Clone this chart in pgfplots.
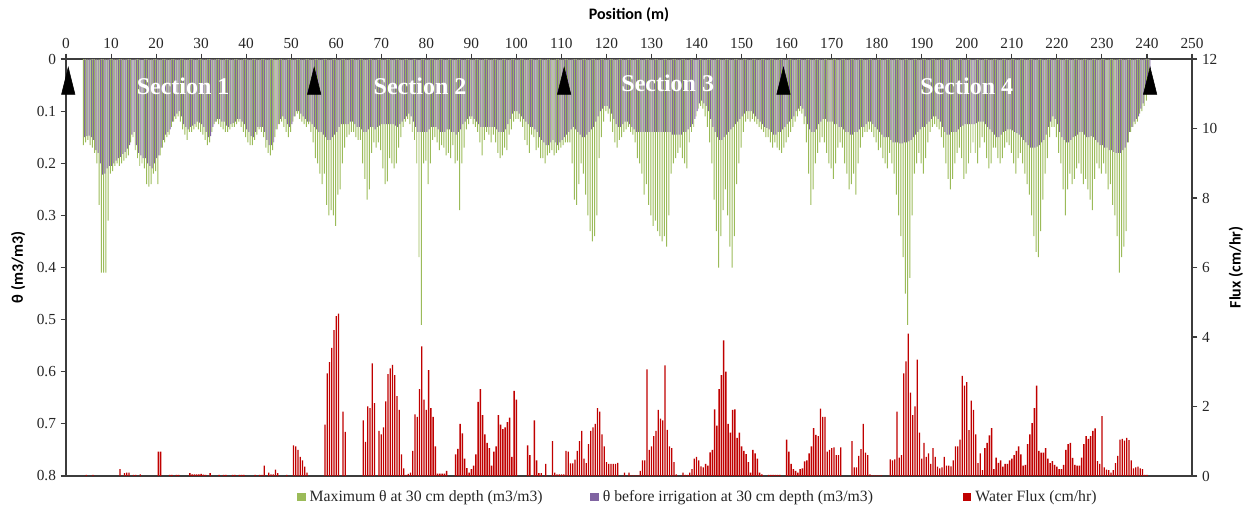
\documentclass[border=0pt]{standalone}
\usepackage{fontspec}
\setmainfont{Liberation Serif}
\newfontfamily\labelfont{Carlito}
\usepackage{pgfplots}
\usepackage{pgfplotstable}
\pgfplotsset{compat=1.18}

\definecolor{thmax}{RGB}{155,187,89}
\definecolor{thpre}{RGB}{128,100,162}
\definecolor{fluxred}{RGB}{192,0,0}
\definecolor{axisgrey}{RGB}{60,60,60}

\pgfplotsset{sqlegend/.style={legend image code/.code={\fill[##1] (0pt,-3.2pt) rectangle (6.4pt,3.2pt);}}}

% soil water content at 30 cm depth: b = before irrigation, m = maximum
\pgfplotstableread{
x b m
4.0 0.150 0.165
4.5 0.148 0.160
5.0 0.147 0.155
5.5 0.150 0.165
6.0 0.155 0.170
6.5 0.175 0.180
7.0 0.180 0.200
7.5 0.200 0.280
8.0 0.222 0.410
8.5 0.220 0.410
9.0 0.210 0.410
9.5 0.205 0.310
10.0 0.205 0.220
10.5 0.200 0.215
11.0 0.195 0.205
11.5 0.190 0.200
12.0 0.188 0.205
12.5 0.182 0.200
13.0 0.178 0.195
13.5 0.172 0.190
14.0 0.165 0.185
14.5 0.145 0.160
15.0 0.140 0.150
15.5 0.165 0.175
16.0 0.180 0.190
16.5 0.185 0.205
17.0 0.190 0.200
17.5 0.190 0.210
18.0 0.200 0.240
18.5 0.205 0.245
19.0 0.210 0.240
19.5 0.200 0.220
20.0 0.190 0.215
20.5 0.185 0.240
21.0 0.170 0.185
21.5 0.155 0.170
22.0 0.145 0.160
22.5 0.140 0.150
23.0 0.135 0.145
23.5 0.120 0.130
24.0 0.110 0.120
24.5 0.105 0.115
25.0 0.100 0.110
25.5 0.110 0.120
26.0 0.125 0.135
26.5 0.130 0.145
27.0 0.135 0.155
27.5 0.130 0.140
28.0 0.128 0.140
28.5 0.125 0.135
29.0 0.120 0.130
29.5 0.122 0.135
30.0 0.125 0.140
30.5 0.130 0.145
31.0 0.140 0.155
31.5 0.150 0.165
32.0 0.148 0.160
32.5 0.130 0.140
33.0 0.120 0.125
33.5 0.115 0.120
34.0 0.115 0.125
34.5 0.120 0.130
35.0 0.120 0.135
35.5 0.128 0.140
36.0 0.130 0.140
36.5 0.125 0.135
37.0 0.123 0.130
37.5 0.120 0.130
38.0 0.115 0.125
38.5 0.115 0.120
39.0 0.120 0.130
39.5 0.125 0.140
40.0 0.135 0.150
40.5 0.140 0.160
41.0 0.148 0.165
41.5 0.150 0.165
42.0 0.140 0.155
42.5 0.130 0.145
43.0 0.130 0.135
43.5 0.130 0.140
44.0 0.140 0.150
44.5 0.155 0.170
45.0 0.165 0.180
45.5 0.165 0.185
46.0 0.160 0.175
46.5 0.135 0.150
47.0 0.125 0.135
47.5 0.115 0.125
48.0 0.110 0.120
48.5 0.115 0.130
49.0 0.125 0.140
49.5 0.130 0.150
50.0 0.125 0.140
50.5 0.110 0.120
51.0 0.100 0.110
51.5 0.100 0.105
52.0 0.105 0.115
52.5 0.110 0.120
53.0 0.115 0.125
53.5 0.120 0.130
54.0 0.120 0.125
54.5 0.125 0.140
55.0 0.130 0.160
55.5 0.135 0.190
56.0 0.140 0.200
56.5 0.140 0.220
57.0 0.145 0.240
57.5 0.150 0.220
58.0 0.155 0.280
58.5 0.155 0.300
59.0 0.150 0.290
59.5 0.145 0.300
60.0 0.140 0.320
60.5 0.130 0.260
61.0 0.125 0.250
61.5 0.125 0.200
62.0 0.125 0.170
62.5 0.125 0.150
63.0 0.120 0.145
63.5 0.120 0.140
64.0 0.125 0.140
64.5 0.130 0.150
65.0 0.130 0.155
65.5 0.135 0.155
66.0 0.140 0.200
66.5 0.140 0.230
67.0 0.135 0.270
67.5 0.130 0.250
68.0 0.130 0.180
68.5 0.135 0.160
69.0 0.130 0.170
69.5 0.128 0.160
70.0 0.125 0.175
70.5 0.125 0.210
71.0 0.125 0.240
71.5 0.125 0.235
72.0 0.125 0.190
72.5 0.125 0.200
73.0 0.128 0.210
73.5 0.130 0.200
74.0 0.125 0.170
74.5 0.120 0.150
75.0 0.115 0.130
75.5 0.110 0.120
76.0 0.105 0.115
76.5 0.110 0.125
77.0 0.120 0.140
77.5 0.130 0.155
78.0 0.140 0.200
78.5 0.140 0.380
79.0 0.140 0.510
79.5 0.140 0.200
80.0 0.140 0.195
80.5 0.135 0.240
81.0 0.130 0.200
81.5 0.130 0.155
82.0 0.130 0.150
82.5 0.135 0.160
83.0 0.140 0.175
83.5 0.140 0.165
84.0 0.140 0.170
84.5 0.135 0.185
85.0 0.135 0.180
85.5 0.140 0.190
86.0 0.140 0.165
86.5 0.145 0.200
87.0 0.140 0.195
87.5 0.135 0.290
88.0 0.125 0.200
88.5 0.120 0.170
89.0 0.115 0.135
89.5 0.110 0.125
90.0 0.110 0.115
90.5 0.115 0.125
91.0 0.120 0.130
91.5 0.125 0.140
92.0 0.130 0.160
92.5 0.130 0.185
93.0 0.130 0.155
93.5 0.130 0.140
94.0 0.130 0.145
94.5 0.130 0.160
95.0 0.130 0.145
95.5 0.135 0.160
96.0 0.140 0.180
96.5 0.140 0.190
97.0 0.140 0.185
97.5 0.135 0.170
98.0 0.125 0.175
98.5 0.115 0.145
99.0 0.105 0.135
99.5 0.100 0.120
100.0 0.100 0.115
100.5 0.105 0.115
101.0 0.110 0.120
101.5 0.115 0.130
102.0 0.120 0.155
102.5 0.125 0.165
103.0 0.130 0.180
103.5 0.130 0.145
104.0 0.135 0.150
104.5 0.140 0.175
105.0 0.150 0.170
105.5 0.155 0.190
106.0 0.160 0.190
106.5 0.165 0.200
107.0 0.165 0.185
107.5 0.160 0.180
108.0 0.155 0.175
108.5 0.160 0.185
109.0 0.165 0.180
109.5 0.160 0.175
110.0 0.155 0.170
110.5 0.150 0.165
111.0 0.145 0.160
111.5 0.140 0.160
112.0 0.135 0.160
112.5 0.130 0.200
113.0 0.135 0.270
113.5 0.140 0.280
114.0 0.145 0.240
114.5 0.150 0.200
115.0 0.150 0.220
115.5 0.145 0.260
116.0 0.140 0.300
116.5 0.135 0.330
117.0 0.130 0.350
117.5 0.120 0.340
118.0 0.110 0.300
118.5 0.100 0.190
119.0 0.095 0.150
119.5 0.090 0.120
120.0 0.090 0.100
120.5 0.095 0.105
121.0 0.105 0.120
121.5 0.115 0.140
122.0 0.125 0.160
122.5 0.130 0.170
123.0 0.130 0.155
123.5 0.125 0.150
124.0 0.120 0.140
124.5 0.120 0.135
125.0 0.125 0.130
125.5 0.130 0.140
126.0 0.135 0.145
126.5 0.140 0.160
127.0 0.140 0.190
127.5 0.140 0.200
128.0 0.140 0.220
128.5 0.140 0.260
129.0 0.140 0.240
129.5 0.140 0.280
130.0 0.140 0.300
130.5 0.140 0.320
131.0 0.140 0.310
131.5 0.140 0.330
132.0 0.140 0.340
132.5 0.140 0.350
133.0 0.140 0.340
133.5 0.140 0.360
134.0 0.140 0.300
134.5 0.145 0.220
135.0 0.145 0.200
135.5 0.145 0.190
136.0 0.145 0.180
136.5 0.145 0.170
137.0 0.140 0.190
137.5 0.140 0.200
138.0 0.135 0.210
138.5 0.130 0.160
139.0 0.125 0.140
139.5 0.115 0.130
140.0 0.100 0.110
140.5 0.085 0.095
141.0 0.080 0.090
141.5 0.085 0.095
142.0 0.090 0.110
142.5 0.100 0.130
143.0 0.115 0.160
143.5 0.130 0.200
144.0 0.140 0.270
144.5 0.150 0.330
145.0 0.155 0.400
145.5 0.155 0.340
146.0 0.150 0.290
146.5 0.145 0.250
147.0 0.140 0.300
147.5 0.135 0.360
148.0 0.130 0.400
148.5 0.125 0.340
149.0 0.120 0.240
149.5 0.115 0.200
150.0 0.110 0.170
150.5 0.105 0.140
151.0 0.100 0.120
151.5 0.100 0.115
152.0 0.100 0.120
152.5 0.105 0.115
153.0 0.110 0.120
153.5 0.115 0.125
154.0 0.120 0.130
154.5 0.125 0.135
155.0 0.130 0.140
155.5 0.132 0.150
156.0 0.135 0.150
156.5 0.140 0.160
157.0 0.145 0.170
157.5 0.145 0.160
158.0 0.140 0.170
158.5 0.140 0.175
159.0 0.135 0.180
159.5 0.130 0.170
160.0 0.125 0.160
160.5 0.120 0.150
161.0 0.115 0.140
161.5 0.110 0.130
162.0 0.100 0.120
162.5 0.095 0.110
163.0 0.090 0.100
163.5 0.095 0.105
164.0 0.110 0.125
164.5 0.125 0.160
165.0 0.135 0.220
165.5 0.140 0.280
166.0 0.140 0.250
166.5 0.135 0.200
167.0 0.125 0.180
167.5 0.120 0.160
168.0 0.115 0.150
168.5 0.115 0.160
169.0 0.120 0.180
169.5 0.120 0.200
170.0 0.120 0.210
170.5 0.125 0.230
171.0 0.125 0.200
171.5 0.130 0.170
172.0 0.130 0.160
172.5 0.135 0.170
173.0 0.140 0.200
173.5 0.140 0.220
174.0 0.145 0.250
174.5 0.145 0.240
175.0 0.140 0.220
175.5 0.140 0.260
176.0 0.135 0.200
176.5 0.130 0.170
177.0 0.130 0.150
177.5 0.125 0.140
178.0 0.120 0.140
178.5 0.120 0.135
179.0 0.125 0.140
179.5 0.130 0.150
180.0 0.135 0.160
180.5 0.140 0.175
181.0 0.145 0.170
181.5 0.150 0.190
182.0 0.150 0.200
182.5 0.150 0.210
183.0 0.155 0.180
183.5 0.160 0.200
184.0 0.160 0.220
184.5 0.160 0.260
185.0 0.162 0.300
185.5 0.162 0.340
186.0 0.160 0.380
186.5 0.160 0.450
187.0 0.158 0.510
187.5 0.155 0.420
188.0 0.150 0.300
188.5 0.145 0.220
189.0 0.140 0.200
189.5 0.135 0.180
190.0 0.130 0.200
190.5 0.130 0.220
191.0 0.125 0.190
191.5 0.120 0.160
192.0 0.115 0.140
192.5 0.110 0.130
193.0 0.110 0.125
193.5 0.115 0.130
194.0 0.120 0.135
194.5 0.130 0.150
195.0 0.140 0.170
195.5 0.145 0.200
196.0 0.145 0.230
196.5 0.140 0.250
197.0 0.140 0.230
197.5 0.140 0.200
198.0 0.135 0.180
198.5 0.130 0.170
199.0 0.128 0.190
199.5 0.125 0.230
200.0 0.125 0.220
200.5 0.125 0.200
201.0 0.125 0.180
201.5 0.125 0.160
202.0 0.123 0.180
202.5 0.120 0.200
203.0 0.120 0.170
203.5 0.120 0.150
204.0 0.125 0.160
204.5 0.130 0.190
205.0 0.135 0.210
205.5 0.140 0.200
206.0 0.145 0.170
206.5 0.150 0.170
207.0 0.150 0.190
207.5 0.145 0.200
208.0 0.140 0.190
208.5 0.138 0.170
209.0 0.135 0.160
209.5 0.135 0.165
210.0 0.137 0.180
210.5 0.140 0.200
211.0 0.142 0.220
211.5 0.145 0.190
212.0 0.150 0.180
212.5 0.155 0.200
213.0 0.160 0.220
213.5 0.165 0.240
214.0 0.170 0.260
214.5 0.170 0.300
215.0 0.170 0.340
215.5 0.168 0.370
216.0 0.165 0.380
216.5 0.160 0.330
217.0 0.155 0.270
217.5 0.145 0.220
218.0 0.130 0.190
218.5 0.120 0.150
219.0 0.110 0.130
219.5 0.115 0.130
220.0 0.125 0.150
220.5 0.140 0.180
221.0 0.150 0.200
221.5 0.155 0.250
222.0 0.160 0.300
222.5 0.160 0.250
223.0 0.155 0.220
223.5 0.150 0.240
224.0 0.148 0.230
224.5 0.145 0.210
225.0 0.140 0.200
225.5 0.140 0.220
226.0 0.145 0.240
226.5 0.150 0.230
227.0 0.150 0.250
227.5 0.148 0.270
228.0 0.150 0.290
228.5 0.155 0.230
229.0 0.160 0.200
229.5 0.165 0.210
230.0 0.165 0.220
230.5 0.170 0.200
231.0 0.170 0.220
231.5 0.175 0.250
232.0 0.175 0.240
232.5 0.178 0.280
233.0 0.180 0.300
233.5 0.180 0.340
234.0 0.180 0.410
234.5 0.175 0.380
235.0 0.170 0.360
235.5 0.160 0.330
236.0 0.140 0.160
236.5 0.130 0.140
237.0 0.120 0.130
237.5 0.115 0.125
238.0 0.110 0.120
238.5 0.095 0.105
239.0 0.085 0.100
239.5 0.060 0.090
240.0 0.040 0.080
240.5 0.020 0.050
}\thetatab

\begin{document}
\begin{tikzpicture}
% soil water content, depth axis pointing down
\begin{axis}[
  at={(0pt,0pt)}, anchor=south west,
  scale only axis, width=844.5pt, height=312.75pt,
  xmin=0, xmax=250, ymin=0, ymax=0.8, y dir=reverse,
  clip=false,
  axis x line*=top, axis y line*=left,
  axis line style={draw=axisgrey, line width=0.8pt},
  xtick={0,10,...,250},
  ytick={0,0.1,0.2,0.3,0.4,0.5,0.6,0.7,0.8},
  yticklabels={0,0.1,0.2,0.3,0.4,0.5,0.6,0.7,0.8},
  tick align=outside, major tick length=4pt,
  tick style={draw=axisgrey, line width=0.8pt},
  ticklabel style={font=\fontsize{11.5}{13}\selectfont, text=black!85},
  /pgf/number format/assume math mode=true,
  xlabel={Position (m)}, ylabel={θ (m3/m3)},
  xlabel style={font=\labelfont\bfseries\fontsize{12}{14}\selectfont, at={(axis description cs:0.5,1.107)}, anchor=center},
  ylabel style={font=\labelfont\bfseries\fontsize{12}{14}\selectfont, at={(axis description cs:-0.0426,0.5)}, anchor=center},
  legend columns=3,
  legend style={draw=none, fill=none, at={(axis description cs:0.2015,-0.05)}, anchor=west,
    font=\fontsize{11.8}{13}\selectfont, text=black!85,
    nodes={inner sep=1pt}, /tikz/every odd column/.append style={column sep=2pt}},
]
\addplot[ybar, bar width=0.22, bar shift=-0.125, fill=thmax, draw=none, sqlegend] table[x=x, y=m] {\thetatab};
\addlegendentry{\makebox[209.5pt][l]{Maximum θ at 30 cm depth (m3/m3)}}
\addplot[ybar, bar width=0.22, bar shift=0.125, fill=thpre, draw=none, sqlegend] table[x=x, y=b] {\thetatab};
\addlegendentry{\makebox[269pt][l]{θ before irrigation at 30 cm depth (m3/m3)}}
\addlegendimage{fill=fluxred, draw=none, sqlegend}
\addlegendentry{Water Flux (cm/hr)}
% section boundaries
\addplot[forget plot, only marks, mark=triangle*, mark size=13.5pt,
  mark options={xscale=0.43, fill=black, draw=black}]
  coordinates {(0.5,0.0505) (55.1,0.0505) (110.6,0.0505) (159.3,0.0505) (240.7,0.0505)};
\node[text=white, font=\bfseries\fontsize{18}{20}\selectfont] at (axis cs:26,0.052) {Section 1};
\node[text=white, font=\bfseries\fontsize{18}{20}\selectfont] at (axis cs:78.6,0.052) {Section 2};
\node[text=white, font=\bfseries\fontsize{18}{20}\selectfont] at (axis cs:133.6,0.047) {Section 3};
\node[text=white, font=\bfseries\fontsize{18}{20}\selectfont] at (axis cs:200,0.052) {Section 4};
\end{axis}
% water flux, right axis
\begin{axis}[
  at={(0pt,0pt)}, anchor=south west,
  scale only axis, width=844.5pt, height=312.75pt,
  xmin=0, xmax=250, ymin=0, ymax=12,
  axis x line*=bottom, axis y line*=right, xtick=\empty,
  axis line style={draw=axisgrey, line width=0.8pt},
  ytick={0,2,4,6,8,10,12},
  tick align=outside, major tick length=4pt,
  tick style={draw=axisgrey, line width=0.8pt},
  ticklabel style={font=\fontsize{11.5}{13}\selectfont, text=black!85},
  /pgf/number format/assume math mode=true,
  ylabel={Flux (cm/hr)},
  ylabel style={font=\labelfont\bfseries\fontsize{12}{14}\selectfont, at={(axis description cs:1.039,0.5)}, anchor=center},
]
\addplot[ybar, bar width=0.3, bar shift=0, fill=fluxred, draw=none] coordinates {
(4.5,0.03) (6.0,0.03) (12.0,0.2) (13.0,0.08) (13.5,0.1) (14.0,0.1) (15.0,0.03) (15.5,0.03) (16.5,0.05)
(20.5,0.7) (21.0,0.7) (23.0,0.03) (23.5,0.03) (24.5,0.03) (25.0,0.03)
(27.5,0.08) (28.0,0.05) (28.5,0.05) (29.0,0.05) (29.5,0.05) (30.0,0.06) (30.5,0.04) (31.0,0.03) (32.0,0.08)
(34.0,0.03) (35.0,0.03) (35.5,0.03) (37.0,0.03) (37.5,0.03) (38.5,0.03) (39.0,0.03) (39.5,0.03)
(42.0,0.03) (43.0,0.03) (43.5,0.03) (44.0,0.3) (45.0,0.1) (45.5,0.05) (46.0,0.05) (46.5,0.18) (47.0,0.08) (49.0,0.03)
(50.5,0.88) (51.0,0.85) (51.5,0.75) (52.0,0.55) (52.5,0.45) (53.0,0.27) (53.5,0.1)
(57.5,1.48) (58.0,2.95) (58.5,3.28) (59.0,3.69) (59.5,4.2) (60.0,4.6) (60.5,4.67) (61.5,1.85) (62.0,1.27)
(66.0,1.6) (66.5,0.98) (67.0,2.0) (67.5,1.95) (68.0,3.24) (68.5,2.1)
(69.5,1.3) (70.0,1.2) (70.5,1.4) (71.0,2.15) (71.5,2.93) (72.0,3.1) (72.5,3.2) (73.0,2.9) (73.5,2.3) (74.0,1.9) (74.5,0.62) (75.0,0.22) (75.5,0.03) (76.0,0.06) (76.5,0.1)
(77.0,0.72) (77.5,1.77) (78.0,1.7) (78.5,2.5) (79.0,3.73) (79.5,2.2) (80.0,1.9) (80.5,3.05) (81.0,1.95) (81.5,1.7) (82.0,0.85) (82.5,0.07) (83.0,0.07) (83.5,0.07) (84.0,0.07) (84.5,0.15)
(86.5,0.62) (87.0,0.78) (87.5,1.5) (88.0,1.23) (88.5,0.5) (89.0,0.23) (89.5,0.1) (90.0,0.2) (90.5,0.3) (91.0,0.62) (91.5,2.13) (92.0,2.5) (92.5,1.75) (93.0,1.2) (93.5,0.95) (94.0,0.8) (94.5,0.3) (95.0,0.7) (95.5,0.85) (96.0,1.75) (96.5,1.48) (97.0,1.35) (97.5,1.4) (98.0,1.55) (98.5,1.68) (99.0,0.55) (99.5,2.45) (100.0,2.2)
(102.5,0.88) (103.0,0.6) (104.0,1.6) (104.5,0.45) (105.0,0.08) (105.5,0.08) (106.5,0.35) (108.0,1.0) (108.5,0.1) (109.0,0.05) (109.5,0.05) (110.0,0.05) (110.5,0.05)
(111.0,0.72) (111.5,0.7) (112.0,0.36) (112.5,0.36) (113.0,0.47) (113.5,0.72) (114.0,1.0) (114.5,1.3) (115.0,0.5) (115.5,0.37) (116.0,0.92) (116.5,1.3) (117.0,1.4) (117.5,1.5) (118.0,1.95) (118.5,1.85) (119.0,1.2) (119.5,0.85) (120.0,0.4) (120.5,0.35) (121.0,0.35) (121.5,0.35) (122.0,0.35) (122.5,0.38)
(124.0,0.1) (125.0,0.1) (125.5,0.02) (126.0,0.02) (126.5,0.02) (127.0,0.02) (127.5,0.15) (128.0,0.45) (128.5,0.45) (129.0,3.07) (129.5,0.75) (130.0,0.85) (130.5,1.15) (131.0,1.3) (131.5,1.9) (132.0,1.65) (132.5,1.6) (133.0,3.18) (133.5,1.33) (134.0,0.85) (134.5,0.8) (135.0,0.4) (135.5,0.05)
(137.0,0.1) (137.5,0.03) (138.0,0.03) (138.5,0.1) (139.0,0.2) (139.5,0.5) (140.0,0.55) (140.5,0.45) (141.0,0.28) (141.5,0.25) (142.0,0.35) (142.5,0.3) (143.0,0.68) (143.5,0.75) (144.0,1.92) (144.5,1.45) (145.0,2.5) (145.5,2.9) (146.0,3.9) (146.5,3.0) (147.0,1.5) (147.5,1.25) (148.0,1.9) (148.5,1.92) (149.0,1.1) (149.5,1.25) (150.0,0.85) (150.5,0.72) (151.0,0.63) (151.5,0.4) (152.0,0.1) (152.5,0.75) (153.0,0.65) (153.5,0.5) (154.0,0.1) (154.5,0.05)
(156.0,0.03) (156.5,0.03) (157.0,0.03) (157.5,0.03) (158.0,0.03) (158.5,0.03)
(160.0,1.05) (160.5,0.7) (161.0,0.35) (161.5,0.2) (162.0,0.15) (162.5,0.1) (163.0,0.2) (163.5,0.22) (164.0,0.42) (164.5,0.45) (165.0,0.65) (165.5,0.85) (166.0,1.38) (166.5,1.18) (167.0,1.15) (167.5,1.94) (168.0,1.7) (168.5,1.7) (169.0,0.7) (169.5,0.75) (170.0,0.8) (170.5,0.82) (171.0,0.6) (171.5,0.6) (172.0,0.82)
(174.5,1.0) (175.0,0.25) (175.5,0.25) (176.0,0.58) (176.5,0.77) (177.0,1.5) (177.5,0.67) (178.0,0.6) (178.5,0.05) (179.0,0.02) (179.5,0.02) (180.0,0.02) (180.5,0.02) (181.0,0.02)
(183.0,0.48) (183.5,0.45) (184.0,0.48) (184.5,1.85) (185.0,0.53) (185.5,0.6) (186.0,2.95) (186.5,3.3) (187.0,4.1) (187.5,2.4) (188.0,1.75) (188.5,2.0) (189.0,3.35) (189.5,1.25) (190.0,0.5) (190.5,0.95) (191.0,0.55) (191.5,0.65) (192.0,0.35) (192.5,0.8) (193.0,0.55) (193.5,0.27) (194.0,0.22) (194.5,0.25) (195.0,0.55) (195.5,0.3) (196.0,0.3) (196.5,0.28) (197.0,0.45)
(197.5,0.85) (198.0,0.85) (198.5,1.05) (199.0,2.88) (199.5,2.6) (200.0,2.7) (200.5,1.32) (201.0,2.17) (201.5,1.9) (202.0,1.2) (202.5,0.37) (203.0,0.65) (203.5,0.17) (204.0,0.8) (204.5,0.95) (205.0,1.17) (205.5,1.38)
(206.0,0.2) (206.5,0.53) (207.0,0.38) (207.5,0.45) (208.0,0.27) (208.5,0.35) (209.0,0.35) (209.5,0.45) (210.0,0.5) (210.5,0.6) (211.0,0.72) (211.5,0.85) (212.0,0.62) (212.5,0.3) (213.0,0.32) (213.5,0.92) (214.0,1.2) (214.5,1.52) (215.0,1.95) (215.5,2.6)
(216.0,0.72) (216.5,0.67) (217.0,0.67) (217.5,0.8) (218.0,0.5) (218.5,0.37) (219.0,0.43) (219.5,0.32) (220.0,0.27) (220.5,0.2) (221.0,0.2) (221.5,0.32) (222.0,0.75) (222.5,0.92) (223.0,0.95) (223.5,0.52) (224.0,0.32) (224.5,0.3) (225.0,0.3) (225.5,0.53) (226.0,0.92) (226.5,1.15) (227.0,1.07) (227.5,1.15) (228.0,1.3) (228.5,1.37) (229.0,0.43) (229.5,0.35) (230.0,1.72)
(230.5,0.25) (231.0,0.18) (231.5,0.17) (232.0,0.1) (232.5,0.17) (233.0,0.37) (233.5,0.58) (234.0,1.05) (234.5,1.07) (235.0,1.02) (235.5,1.1) (236.0,1.03) (236.5,0.45) (237.0,0.22) (237.5,0.25) (238.0,0.27) (238.5,0.22) (239.0,0.2) (239.5,0.03) (240.0,0.03)
};
\end{axis}
\pgfresetboundingbox
\path[use as bounding box] (-49.5pt,-30pt) rectangle (887.25pt,357pt);
\end{tikzpicture}
\end{document}
